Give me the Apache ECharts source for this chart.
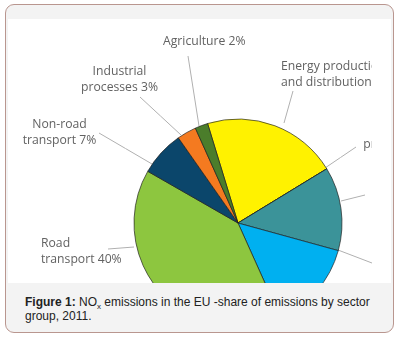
<!DOCTYPE html>
<html>
<head>
<meta charset="utf-8">
<script src="https://cdn.jsdelivr.net/npm/echarts@6/dist/echarts.min.js"></script>
<style>
  html, body { margin: 0; padding: 0; background: #ffffff; width: 399px; height: 337px; overflow: hidden; }
  #card { position: absolute; left: 5px; top: 4px; width: 389px; height: 329px; box-sizing: border-box;
          border: 1.5px solid #b9968f; border-radius: 9px; background: #f3f3f3; }
  #imgbox { position: absolute; left: 8px; top: 19px; width: 383px; height: 264px; background: #ffffff; }
  #chart { position: absolute; left: 8px; top: 19px; width: 364px; height: 264px; }
  #caption { position: absolute; left: 25px; top: 295px; width: 360px; font-family: "Liberation Sans", Arial, sans-serif;
             font-size: 12px; line-height: 14px; color: #222; }
  #caption sub { font-size: 8px; vertical-align: -3px; line-height: 0; }
</style>
</head>
<body>
<div id="card"></div>
<div id="imgbox"></div>
<div id="chart"></div>
<div id="caption"><b>Figure 1:</b> NO<sub>x</sub> emissions in the EU -share of emissions by sector group, 2011.</div>
<script>
const categories = [
  'Energy production\nand distribution',
  'Solvent and\nproduct use',
  'Energy use in\nindustry',
  'Commercial, institutional\nand households',
  'Road\ntransport',
  'Non-road\ntransport',
  'Industrial\nprocesses',
  'Agriculture'
];
const shares = [21, 0, 13, 14, 40, 7, 3, 2];
const sliceColors = ['#fff200', '#3b9399', '#3b9399', '#00b0f0', '#8dc63f', '#0b466b', '#f47a20', '#4b7d2b'];

// label placement (chart-local pixels): text anchor + leader line ends
const labelPlaces = [
  { x: 273,   y: 55.5, align: 'left',   line: [[276, 104], [285, 72]] },
  { x: 399.5, y: 118,  align: 'center', line: [[317, 149], [348, 128]] },
  { x: 368,   y: 176,  align: 'left',   line: [[333, 182], [357, 176]] },
  { x: 368,   y: 244,  align: 'left',   line: [[330, 231], [364, 244]] },
  { x: 33,    y: 232.5,align: 'left',   line: [[126, 228], [100, 230]] },
  { x: 51.5,  y: 114,  align: 'center', line: [[144, 145], [91, 114]] },
  { x: 111.5, y: 61,   align: 'center', line: [[173, 116], [132, 78]] },
  { x: 155,   y: 23,   align: 'left',   line: [[191, 107], [180, 37]] }
];

const chart = echarts.init(document.getElementById('chart'), null, { renderer: 'canvas' });
const data = categories.map((c, i) => ({
  name: c,
  value: shares[i],
  itemStyle: { color: sliceColors[i] }
}));

chart.setOption({
  animation: false,
  series: [{
    type: 'pie',
    center: [230, 204],
    radius: 104,
    startAngle: 107,
    clockwise: true,
    avoidLabelOverlap: false,
    minShowLabelAngle: 0,
    data: data,
    itemStyle: { borderColor: 'rgba(30,30,30,0.85)', borderWidth: 0.8 },
    label: {
      show: true,
      position: 'outside',
      fontFamily: '"Open Sans", sans-serif',
      fontSize: 12.2,
      lineHeight: 16,
      color: '#626262',
      formatter: p => p.name + ' ' + p.value + '%'
    },
    labelLine: { show: true, lineStyle: { color: '#b0b0b0', width: 1 } },
    labelLayout: function (params) {
      const pl = labelPlaces[params.dataIndex];
      const a = pl.line[0], b = pl.line[1];
      return {
        x: pl.x,
        y: pl.y,
        align: pl.align,
        verticalAlign: 'middle',
        labelLinePoints: [a, [(a[0] + b[0]) / 2, (a[1] + b[1]) / 2], b]
      };
    },
    emphasis: { disabled: true }
  }]
});
</script>
</body>
</html>
